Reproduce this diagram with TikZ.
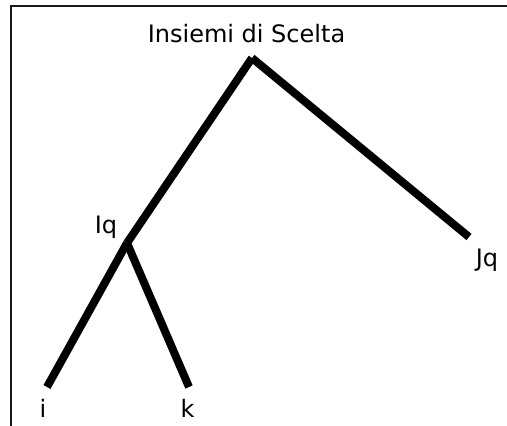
\documentclass[tikz,border=0pt]{standalone}
\usepackage{fontspec}
\setmainfont{DejaVu Sans}

\tikzset{
	branch/.style={black,line width=8pt,line cap=butt},
	lbl/.style={inner sep=0pt,anchor=base,font=\fontsize{24}{28}\selectfont},
}

\begin{document}
\begin{tikzpicture}[x=1pt,y=-1pt]
	\useasboundingbox (0,0) rectangle (507,426);
	% frame
	\draw [black!90,line width=2pt] (11,426)--(11,6)--(507,6);
	% branch points
	\coordinate (root) at (252,58);
	\coordinate (iq) at (127,243);
	\coordinate (jq) at (469,237);
	\coordinate (i) at (47,387);
	\coordinate (k) at (189,387);
	\draw [branch] (root)--(iq);
	\draw [branch] (root)--(jq);
	\draw [branch] (iq)--(i);
	\draw [branch] (iq)--(k);
	% labels
	\node [lbl] (rootlabel) at (246.5,42) {Insiemi di Scelta};
	\node [lbl] (iqlabel) at (106,233) {Iq};
	\node [lbl] (jqlabel) at (487,266) {Jq};
	\node [lbl] (ilabel) at (43,417) {i};
	\node [lbl] (klabel) at (187.5,417) {k};
\end{tikzpicture}
\end{document}
